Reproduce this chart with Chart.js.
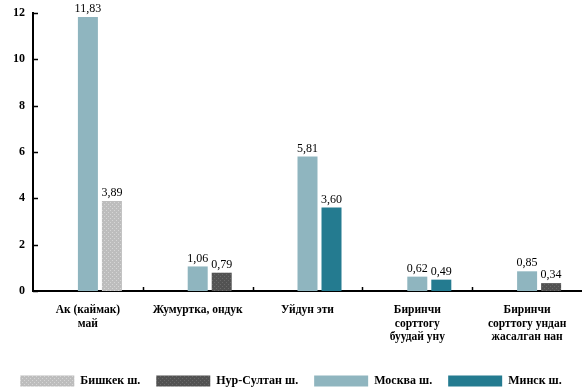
<!DOCTYPE html>
<html>
<head>
<meta charset="utf-8">
<script src="https://cdn.jsdelivr.net/npm/chart.js@4.4.1/dist/chart.umd.min.js"></script>
<style>
  html, body { margin: 0; padding: 0; background: #fff; }
  #wrap { width: 582px; height: 387px; }
</style>
</head>
<body>
<div id="wrap"><canvas id="bar_chart"></canvas></div>
<script>
var categories = [
    ['Ак (каймак)', 'май'],
    'Жумуртка, ондук',
    'Уйдун эти',
    ['Биринчи', 'сорттогу', 'буудай уну'],
    ['Биринчи', 'сорттогу ундан', 'жасалган нан']
];
var bishkek   = [3.89, null, null, null, null];
var nurSultan = [null, 0.79, null, null, 0.34];
var moskva    = [11.83, 1.06, 5.81, 0.62, 0.85];
var minsk     = [null, null, 3.60, 0.49, null];
var yTicks    = [0, 2, 4, 6, 8, 10, 12];
// empty slot left of each pair (the source leaves a gap there)
var slot      = [0, 0, 0, 0, 0];

var serif = '"Liberation Serif", "Times New Roman", serif';

function dotted(base, dot) {
    var c = document.createElement('canvas');
    c.width = 4; c.height = 4;
    var x = c.getContext('2d');
    x.fillStyle = base; x.fillRect(0, 0, 4, 4);
    x.fillStyle = dot; x.fillRect(0, 0, 1, 1); x.fillRect(2, 2, 1, 1);
    return x.createPattern(c, 'repeat');
}

var valueLabels = {
    id: 'valueLabels',
    afterDatasetsDraw: function (chart) {
        var ctx = chart.ctx;
        ctx.save();
        ctx.font = '12px ' + serif;
        ctx.fillStyle = '#000';
        ctx.textAlign = 'center';
        ctx.textBaseline = 'bottom';
        chart.data.datasets.forEach(function (ds, i) {
            if (ds.spacer) return;
            chart.getDatasetMeta(i).data.forEach(function (bar, j) {
                var v = ds.data[j];
                if (v === null) return;
                ctx.fillText(v.toFixed(2).replace('.', ','), bar.x, bar.y - 2);
            });
        });
        ctx.restore();
    }
};

var axisTicks = {
    id: 'axisTicks',
    afterDraw: function (chart) {
        var ctx = chart.ctx, x = chart.scales.x, y = chart.scales.y;
        ctx.save();
        ctx.strokeStyle = '#000';
        ctx.lineWidth = 1.5;
        ctx.beginPath();
        yTicks.forEach(function (t) {
            var py = Math.round(y.getPixelForValue(t)) + 0.5;
            ctx.moveTo(x.left, py); ctx.lineTo(x.left + 5, py);
        });
        for (var i = 1; i < categories.length; i++) {
            var px = Math.round((x.getPixelForValue(i - 1) + x.getPixelForValue(i)) / 2) + 0.5;
            ctx.moveTo(px, y.bottom); ctx.lineTo(px, y.bottom - 4);
        }
        ctx.stroke();
        ctx.restore();
    }
};

var legendRank = ['Бишкек ш.', 'Нур-Султан ш.', 'Москва ш.', 'Минск ш.'];

new Chart(document.getElementById('bar_chart').getContext('2d'), {
    type: 'bar',
    data: {
        labels: categories,
        datasets: [{
            label: 'Бишкек ш.',
            data: bishkek,
            backgroundColor: dotted('#bdbdbd', '#d6d6d6'),
            order: 2
        }, {
            label: 'Нур-Султан ш.',
            data: nurSultan,
            backgroundColor: dotted('#525252', '#6a6a6a'),
            order: 2
        }, {
            label: 'Москва ш.',
            data: moskva,
            backgroundColor: '#8fb5bf',
            order: 1
        }, {
            label: 'Минск ш.',
            data: minsk,
            backgroundColor: '#247b90',
            order: 2
        }, {
            label: '',
            spacer: true,
            data: slot,
            backgroundColor: 'rgba(0,0,0,0)',
            order: 0
        }]
    },
    options: {
        responsive: true,
        maintainAspectRatio: false,
        animation: false,
        skipNull: true,
        categoryPercentage: 0.656,
        barPercentage: 0.833,
        layout: { padding: { top: 13, right: 0, left: 0, bottom: -10 } },
        plugins: {
            tooltip: { enabled: false },
            legend: {
                position: 'bottom',
                labels: {
                    filter: function (item) { return item.text !== ''; },
                    sort: function (a, b) { return legendRank.indexOf(a.text) - legendRank.indexOf(b.text); },
                    boxWidth: 54,
                    boxHeight: 11,
                    padding: 16,
                    color: '#000',
                    font: { family: serif, size: 12, weight: 'bold' }
                }
            }
        },
        scales: {
            x: {
                grid: { display: false },
                border: { display: true, color: '#000', width: 2 },
                ticks: {
                    color: '#000',
                    padding: 4,
                    maxRotation: 0,
                    autoSkip: false,
                    font: { family: serif, size: 11.5, weight: 'bold' }
                },
                afterFit: function (s) { s.height = 68; }
            },
            y: {
                min: 0,
                max: 12,
                grid: { display: false },
                border: { display: true, color: '#000', width: 2 },
                afterBuildTicks: function (s) { s.ticks = yTicks.map(function (v) { return { value: v }; }); },
                ticks: {
                    color: '#000',
                    padding: 0,
                    font: { family: serif, size: 12, weight: 'bold' }
                },
                afterFit: function (s) { s.width = 33; }
            }
        }
    },
    plugins: [valueLabels, axisTicks]
});
</script>
</body>
</html>
